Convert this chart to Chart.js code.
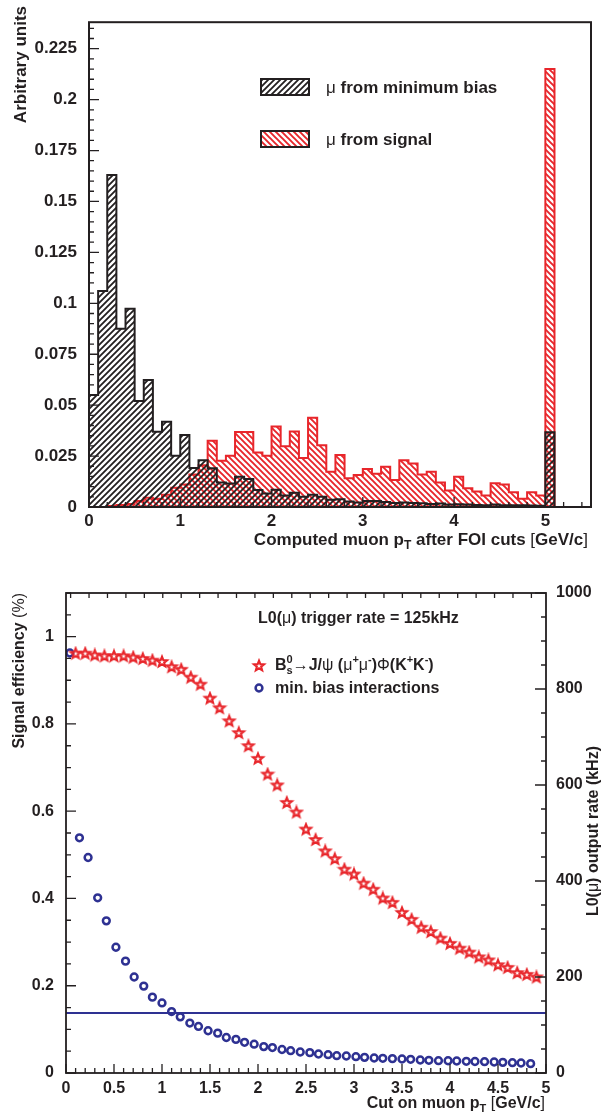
<!DOCTYPE html>
<html>
<head>
<meta charset="utf-8">
<script src="https://cdn.jsdelivr.net/npm/chart.js@4.4.0/dist/chart.umd.min.js"></script>
<style>
  body { margin: 0; background: #fff; }
  #histChart { position: absolute; left: 0; top: 0; }
  #effChart { position: absolute; left: 0; top: 552px; }
</style>
</head>
<body>
<canvas id="histChart" width="608" height="552"></canvas>
<canvas id="effChart" width="608" height="561"></canvas>
<script>
// ---- top panel: muon pT histograms (bin lower edges, 0.1 GeV/c wide) ----
const binLow = [0, 0.1, 0.2, 0.3, 0.4, 0.5, 0.6, 0.7, 0.8, 0.9,
  1, 1.1, 1.2, 1.3, 1.4, 1.5, 1.6, 1.7, 1.8, 1.9,
  2, 2.1, 2.2, 2.3, 2.4, 2.5, 2.6, 2.7, 2.8, 2.9,
  3, 3.1, 3.2, 3.3, 3.4, 3.5, 3.6, 3.7, 3.8, 3.9,
  4, 4.1, 4.2, 4.3, 4.4, 4.5, 4.6, 4.7, 4.8, 4.9, 5];
const muMinBias = [0.055, 0.106, 0.163, 0.0875, 0.0973, 0.052, 0.0624, 0.037, 0.0418, 0.0252,
  0.0354, 0.0192, 0.023, 0.019, 0.012, 0.0115, 0.0148, 0.0137, 0.0084, 0.0066,
  0.0085, 0.0057, 0.007, 0.005, 0.006, 0.005, 0.0035, 0.0038, 0.0027, 0.0022,
  0.003, 0.003, 0.0025, 0.002, 0.0022, 0.002, 0.0018, 0.0015, 0.0017, 0.0012,
  0.0013, 0.0012, 0.001, 0.0009, 0.0012, 0.0008, 0.0008, 0.0008, 0.0007, 0.0006, 0.0367];
const muSignal = [0, 0, 0.0005, 0.001, 0.0015, 0.003, 0.0045, 0.004, 0.006, 0.0095,
  0.011, 0.016, 0.0205, 0.0325, 0.0227, 0.0251, 0.0368, 0.0368, 0.0268, 0.0252,
  0.0395, 0.0298, 0.0371, 0.024, 0.0438, 0.0303, 0.0173, 0.0255, 0.0141, 0.0157,
  0.0186, 0.0163, 0.0198, 0.0132, 0.023, 0.0214, 0.016, 0.0173, 0.012, 0.0081,
  0.0148, 0.0092, 0.0076, 0.0056, 0.0116, 0.011, 0.0073, 0.004, 0.0073, 0.0057, 0.215];

// ---- bottom panel: efficiency and rate vs pT cut ----
const effCut = [0.1, 0.2, 0.3, 0.4, 0.5, 0.6, 0.7, 0.8, 0.9, 1,
  1.1, 1.2, 1.3, 1.4, 1.5, 1.6, 1.7, 1.8, 1.9, 2,
  2.1, 2.2, 2.3, 2.4, 2.5, 2.6, 2.7, 2.8, 2.9, 3,
  3.1, 3.2, 3.3, 3.4, 3.5, 3.6, 3.7, 3.8, 3.9, 4,
  4.1, 4.2, 4.3, 4.4, 4.5, 4.6, 4.7, 4.8, 4.9];
const signalEff = [0.961, 0.961, 0.957, 0.955, 0.955, 0.955, 0.952, 0.949, 0.945, 0.942,
  0.930, 0.924, 0.906, 0.890, 0.858, 0.836, 0.806, 0.779, 0.749, 0.720,
  0.684, 0.659, 0.619, 0.597, 0.558, 0.534, 0.508, 0.490, 0.466, 0.455,
  0.434, 0.420, 0.400, 0.390, 0.367, 0.351, 0.333, 0.323, 0.308, 0.296,
  0.285, 0.276, 0.265, 0.258, 0.247, 0.241, 0.229, 0.225, 0.219];
const rateCut = [0.04, 0.14, 0.23, 0.33, 0.42, 0.52, 0.62, 0.71, 0.81, 0.90,
  1.00, 1.10, 1.19, 1.29, 1.38, 1.48, 1.58, 1.67, 1.77, 1.86,
  1.96, 2.06, 2.15, 2.25, 2.34, 2.44, 2.54, 2.63, 2.73, 2.82,
  2.92, 3.02, 3.11, 3.21, 3.30, 3.40, 3.50, 3.59, 3.69, 3.78,
  3.88, 3.98, 4.07, 4.17, 4.26, 4.36, 4.46, 4.55, 4.65, 4.74, 4.84];
const minBiasRate = [875, 490, 449, 365, 317, 262, 233, 200, 181, 158,
  146, 128, 117, 104, 97, 88, 83, 74, 70, 64,
  60, 55, 53, 49, 46.5, 43.8, 42.4, 39.6, 38.2, 36.1,
  35.4, 34, 32.6, 31.3, 30.6, 29.9, 29.2, 28.5, 27.1, 26.4,
  25.7, 25.5, 25, 24.3, 24, 23.6, 22.9, 22.2, 21.5, 20.8, 19.5];
const triggerRate = 125; // kHz

const INK = '#231f20';
const RED = '#e8262b';
const NAVY = '#2e3192';
const FONT = 'Liberation Sans, Arial, sans-serif';

// hatch fill, dir 1 = "///", dir -1 = "\\\"
function hatch(color, size, width, dir) {
  const c = document.createElement('canvas');
  c.width = c.height = size;
  const g = c.getContext('2d');
  g.strokeStyle = color;
  g.lineWidth = width;
  g.beginPath();
  if (dir > 0) {
    g.moveTo(-1, size + 1); g.lineTo(size + 1, -1);
    g.moveTo(-1, 1); g.lineTo(1, -1);
    g.moveTo(size - 1, size + 1); g.lineTo(size + 1, size - 1);
  } else {
    g.moveTo(-1, -1); g.lineTo(size + 1, size + 1);
    g.moveTo(size - 1, -1); g.lineTo(size + 1, 1);
    g.moveTo(-1, size - 1); g.lineTo(1, size + 1);
  }
  g.stroke();
  return g.createPattern(c, 'repeat');
}

function starImage(color) {
  const c = document.createElement('canvas');
  c.width = c.height = 16;
  const g = c.getContext('2d');
  g.beginPath();
  for (let i = 0; i < 10; i++) {
    const r = i % 2 ? 2.3 : 5.3;
    const a = -Math.PI / 2 + i * Math.PI / 5;
    g.lineTo(8 + r * Math.cos(a), 8 + r * Math.sin(a));
  }
  g.closePath();
  g.lineWidth = 2.1;
  g.strokeStyle = color;
  g.stroke();
  return c;
}

// step outline points for a histogram
function histPoints(edges, vals) {
  const w = edges[1] - edges[0];
  const last = edges.length - 1;
  const pts = [{ x: edges[0], y: 0 }];
  edges.forEach((e, i) => pts.push({ x: e, y: vals[i] }));
  pts.push({ x: edges[last] + w, y: vals[last] });
  pts.push({ x: edges[last] + w, y: 0 });
  return pts;
}

// text with sub/superscripts: parts = [text, font, dy, advance?]
function rich(ctx, x, y, parts, align) {
  let w = 0;
  parts.forEach(p => { ctx.font = p[1]; if (p[3] !== false) w += ctx.measureText(p[0]).width; });
  let cx = align === 'right' ? x - w : x;
  parts.forEach(p => {
    ctx.font = p[1];
    ctx.fillText(p[0], cx, y + (p[2] || 0));
    if (p[3] !== false) cx += ctx.measureText(p[0]).width;
  });
}

// ROOT-like frame with inward ticks
const rootFrame = {
  id: 'rootFrame',
  afterDatasetsDraw(chart, args, opts) {
    const ctx = chart.ctx, a = chart.chartArea;
    ctx.save();
    ctx.strokeStyle = INK;
    ctx.lineWidth = opts.tickWidth;
    ctx.beginPath();
    opts.ticks.forEach(t => {
      const sc = chart.scales[t.scale];
      for (let k = 0; ; k++) {
        const v = (t.start || 0) + k * t.minor;
        if (v > sc.max + 1e-9) break;
        if (t.count !== undefined && k > t.count) break;
        const major = t.every ? k % t.every === 0 : (k === 0 || k === t.count);
        const len = major ? t.majorLen : t.minorLen;
        const p = sc.getPixelForValue(v);
        if (t.side === 'left') { ctx.moveTo(a.left, p); ctx.lineTo(a.left + len, p); }
        if (t.side === 'right') { ctx.moveTo(a.right, p); ctx.lineTo(a.right - len, p); }
        if (t.side === 'bottom') { ctx.moveTo(p, a.bottom); ctx.lineTo(p, a.bottom - len); }
        if (t.side === 'top') { ctx.moveTo(p, a.top); ctx.lineTo(p, a.top + len); }
      }
    });
    ctx.stroke();
    ctx.lineWidth = opts.frameWidth;
    ctx.strokeRect(a.left, a.top, a.right - a.left, a.bottom - a.top);
    ctx.restore();
  }
};

const noGrid = { display: false, drawTicks: false };

// ---------------- top chart ----------------
const hatchBlack = hatch(INK, 6, 1.8, 1);
const hatchRed = hatch(RED, 6, 1.9, -1);

const histLabels = {
  id: 'histLabels',
  afterDraw(chart) {
    const ctx = chart.ctx;
    const B = 'bold 17px ' + FONT, N = '17px ' + FONT, S = 'bold 12px ' + FONT;
    ctx.save();
    ctx.fillStyle = INK;
    ctx.textBaseline = 'alphabetic';
    // axis titles
    rich(ctx, 588, 545, [['Computed muon p', B], ['T', S, 4], [' after FOI cuts ', B], ['[', N], ['GeV/c', B], [']', N]], 'right');
    ctx.save();
    ctx.translate(26, 6);
    ctx.rotate(-Math.PI / 2);
    rich(ctx, 0, 0, [['Arbitrary units', B]], 'right');
    ctx.restore();
    // legend
    [[hatchBlack, 79, 'from minimum bias'], [hatchRed, 131, 'from signal']].forEach(([pat, y, txt]) => {
      ctx.fillStyle = pat;
      ctx.fillRect(261, y, 48, 16);
      ctx.lineWidth = 2;
      ctx.strokeStyle = INK;
      ctx.strokeRect(261, y, 48, 16);
      ctx.fillStyle = INK;
      rich(ctx, 326, y + 14, [['\u03bc', N], [' ' + txt, B]]);
    });
    ctx.restore();
  }
};

new Chart(document.getElementById('histChart'), {
  type: 'line',
  data: {
    datasets: [
      {
        label: '\u03bc from minimum bias',
        data: histPoints(binLow, muMinBias),
        stepped: true,
        fill: 'origin',
        backgroundColor: hatchBlack,
        borderColor: INK,
        borderWidth: 2,
        pointRadius: 0
      },
      {
        label: '\u03bc from signal',
        data: histPoints(binLow, muSignal),
        stepped: true,
        fill: 'origin',
        backgroundColor: hatchRed,
        borderColor: RED,
        borderWidth: 2,
        pointRadius: 0
      }
    ]
  },
  options: {
    responsive: false,
    animation: false,
    layout: { padding: { top: 6, right: 17, left: 0, bottom: 0 } },
    plugins: {
      legend: { display: false },
      tooltip: { enabled: false },
      rootFrame: {
        tickWidth: 1.3,
        frameWidth: 2,
        ticks: [
          { scale: 'y', side: 'left', minor: 0.005, every: 5, majorLen: 10, minorLen: 5 },
          { scale: 'x', side: 'bottom', minor: 0.2, every: 5, majorLen: 10, minorLen: 5 }
        ]
      }
    },
    scales: {
      x: {
        type: 'linear',
        min: 0,
        max: 5.5,
        afterFit: s => { s.height = 45; },
        grid: noGrid,
        border: { display: false },
        ticks: {
          stepSize: 1,
          includeBounds: false,
          padding: 4,
          maxRotation: 0,
          color: INK,
          font: { family: FONT, size: 17, weight: 'bold' },
          callback: v => String(v)
        }
      },
      y: {
        min: 0,
        max: 0.238,
        afterFit: s => { s.width = 89; },
        grid: noGrid,
        border: { display: false },
        ticks: {
          stepSize: 0.025,
          includeBounds: false,
          padding: 12,
          color: INK,
          font: { family: FONT, size: 17, weight: 'bold' },
          callback: v => String(+v.toFixed(3))
        }
      }
    }
  },
  plugins: [rootFrame, histLabels]
});

// ---------------- bottom chart ----------------
const star = starImage(RED);

const effLabels = {
  id: 'effLabels',
  afterDraw(chart) {
    const ctx = chart.ctx;
    const B = 'bold 16px ' + FONT, N = '16px ' + FONT, S = 'bold 11px ' + FONT;
    ctx.save();
    ctx.fillStyle = INK;
    ctx.textBaseline = 'alphabetic';
    rich(ctx, 545, 556, [['Cut on muon p', B], ['T', S, 4], [' ', B], ['[', N], ['GeV/c', B], [']', N]], 'right');
    ctx.save();
    ctx.translate(24, 41);
    ctx.rotate(-Math.PI / 2);
    rich(ctx, 0, 0, [['Signal efficiency ', B], ['(%)', N]], 'right');
    ctx.restore();
    ctx.save();
    ctx.translate(598, 194);
    ctx.rotate(-Math.PI / 2);
    rich(ctx, 0, 0, [['L0(', B], ['\u03bc', N], [') output rate (kHz)', B]], 'right');
    ctx.restore();
    rich(ctx, 258, 71, [['L0(', B], ['\u03bc', N], [') trigger rate = ' + triggerRate + 'kHz', B]]);
    // legend
    ctx.drawImage(star, 259 - 8, 114 - 8);
    rich(ctx, 275, 118, [['B', B], ['0', S, -7, false], ['s', S, 4], ['\u2192', N], ['J/', B], ['\u03c8', N], [' (', B],
      ['\u03bc', N], ['+', S, -7], ['\u03bc', N], ['-', S, -7], [')', B], ['\u03a6', N], ['(K', B], ['+', S, -7], ['K', B], ['-', S, -7], [')', B]]);
    ctx.beginPath();
    ctx.arc(259, 136, 3.4, 0, Math.PI * 2);
    ctx.lineWidth = 2.5;
    ctx.strokeStyle = NAVY;
    ctx.stroke();
    rich(ctx, 275, 141, [['min. bias interactions', B]]);
    ctx.restore();
  }
};

new Chart(document.getElementById('effChart'), {
  type: 'scatter',
  data: {
    datasets: [
      {
        label: 'trigger rate',
        type: 'line',
        data: [{ x: 0, y: triggerRate }, { x: 5, y: triggerRate }],
        yAxisID: 'y2',
        borderColor: NAVY,
        borderWidth: 2,
        pointRadius: 0
      },
      {
        label: 'B_s -> J/psi phi',
        data: effCut.map((x, i) => ({ x, y: signalEff[i] })),
        yAxisID: 'y',
        pointStyle: star
      },
      {
        label: 'min. bias interactions',
        data: rateCut.map((x, i) => ({ x, y: minBiasRate[i] })),
        yAxisID: 'y2',
        pointStyle: 'circle',
        pointRadius: 3.4,
        borderWidth: 2.5,
        borderColor: NAVY,
        backgroundColor: 'rgba(255,255,255,0)'
      }
    ]
  },
  options: {
    responsive: false,
    animation: false,
    layout: { padding: { top: 41, right: 0, left: 0, bottom: 0 } },
    plugins: {
      legend: { display: false },
      tooltip: { enabled: false },
      rootFrame: {
        tickWidth: 1.3,
        frameWidth: 1.8,
        ticks: [
          { scale: 'y', side: 'left', minor: 0.05, every: 4, majorLen: 10, minorLen: 5 },
          { scale: 'y2', side: 'right', minor: 50, every: 4, majorLen: 11, minorLen: 5 },
          { scale: 'x', side: 'bottom', minor: 0.1, every: 5, majorLen: 9, minorLen: 5 },
          { scale: 'x', side: 'top', start: 0.048, minor: 0.192, count: 25, majorLen: 8, minorLen: 5 }
        ]
      }
    },
    scales: {
      x: {
        type: 'linear',
        min: 0,
        max: 5,
        afterFit: s => { s.height = 40; },
        grid: noGrid,
        border: { display: false },
        ticks: {
          stepSize: 0.5,
          includeBounds: false,
          padding: 6,
          maxRotation: 0,
          color: INK,
          font: { family: FONT, size: 16, weight: 'bold' },
          callback: v => String(+v.toFixed(1))
        }
      },
      y: {
        position: 'left',
        min: 0,
        max: 1.1,
        afterFit: s => { s.width = 66; },
        grid: noGrid,
        border: { display: false },
        ticks: {
          stepSize: 0.2,
          includeBounds: false,
          padding: 12,
          color: INK,
          font: { family: FONT, size: 16, weight: 'bold' },
          callback: v => String(+v.toFixed(1))
        }
      },
      y2: {
        position: 'right',
        min: 0,
        max: 1000,
        afterFit: s => { s.width = 62; },
        grid: noGrid,
        border: { display: false },
        ticks: {
          stepSize: 200,
          padding: 10,
          color: INK,
          font: { family: FONT, size: 16, weight: 'bold' },
          callback: v => String(v)
        }
      }
    }
  },
  plugins: [rootFrame, effLabels]
});
</script>
</body>
</html>
